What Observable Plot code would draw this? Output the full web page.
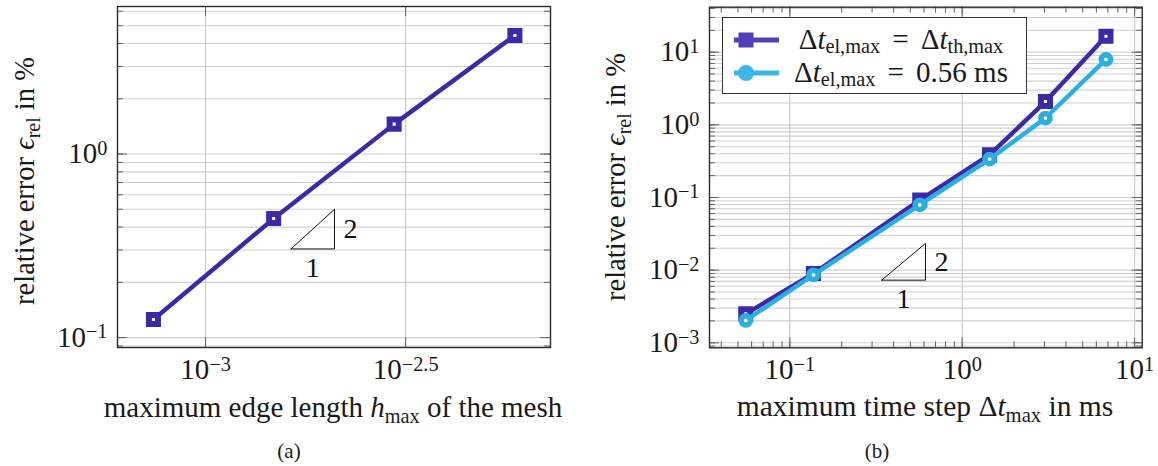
<!DOCTYPE html>
<html><head><meta charset="utf-8">
<script src="https://cdn.jsdelivr.net/npm/d3@7"></script>
<script src="https://cdn.jsdelivr.net/npm/@observablehq/plot@0.6"></script>
<style>
html,body{margin:0;padding:0;background:#fff;}
#root{position:relative;width:1158px;height:466px;overflow:hidden;font-family:"Liberation Serif","Times New Roman",serif;color:#1a1a1a;}
.abs{position:absolute;white-space:nowrap;line-height:1;}
.sub{font-size:0.7em;position:relative;top:0.28em;}
.lsub{font-size:0.7em;position:relative;top:0.2em;}
.it{font-style:italic;}
.eq{margin:0 0.42em;}
.ylab{transform:translate(-50%,-50%) rotate(-90deg);}
.cen{transform:translate(-50%,-50%);}
.panel{position:absolute;top:0;}
.legend{position:absolute;border:1.3px solid #333;background:#fff;box-sizing:border-box;}
.lrow{position:absolute;left:0;right:0;height:30px;}
</style></head><body><div id="root"></div>
<script>
// ---------------- data ----------------
const meshH = [7.41e-4, 1.48e-3, 2.96e-3, 5.93e-3];
const meshErr = [0.1254, 0.445, 1.456, 4.43];
const stepDt = [0.0555, 0.137, 0.567, 1.44, 3.04, 6.82];
const errSameStep = [0.0025, 0.00898, 0.092, 0.386, 2.09, 16.6];
const errFixedStep = [0.00203, 0.0086, 0.079, 0.337, 1.24, 7.94];
const xTicksA = [0.001, 0.0031623];
const xTickLabelsA = ["10^−3", "10^−2.5"];
const yTicksA = [0.1, 1];
const yTickLabelsA = ["10^−1", "10^0"];
const xTicksB = [0.1, 1, 10];
const xTickLabelsB = ["10^−1", "10^0", "10^1"];
const yTicksB = [0.001, 0.01, 0.1, 1, 10];
const yTickLabelsB = ["10^−3", "10^−2", "10^−1", "10^0", "10^1"];
const slopeAx = [1.635e-3, 2.10e-3], slopeAy = [0.304, 0.5];
const slopeBx = [0.341, 0.612], slopeBy = [0.00728, 0.0233];
const slopeText = ["2", "1"];

const PURPLE = "#3c29a9", BLUE = "#29b0e1";
const FONT = '"Liberation Serif","Times New Roman",serif';
const NS = "http://www.w3.org/2000/svg";
const TICKFS = 29;

function decadeValues(lo, hi) {
  const out = [];
  for (let e = Math.floor(Math.log10(lo)); e <= Math.ceil(Math.log10(hi)); e++)
    for (let k = 1; k <= 9; k++) { const v = k * Math.pow(10, e); if (v >= lo && v <= hi) out.push(v); }
  return out;
}

function supLabels(svg) {
  svg.querySelectorAll('g[aria-label$="tick label"] text').forEach(t => {
    const s = t.textContent; const parts = s.split("^");
    if (parts.length < 2) return;
    t.textContent = "";
    const a = document.createElementNS(NS, "tspan"); a.textContent = parts[0]; t.appendChild(a);
    const b = document.createElementNS(NS, "tspan"); b.textContent = parts[1];
    b.setAttribute("dy", "-0.42em"); b.setAttribute("font-size", (TICKFS * 0.7) + "px"); t.appendChild(b);
  });
}

function slopeMarks(xs, ys) {
  const idx = [0, 1, 2, 3];
  const px = [xs[0], xs[1], xs[1], xs[0]], py = [ys[0], ys[0], ys[1], ys[0]];
  return [
    Plot.line(idx, {x: i => px[i], y: i => py[i], stroke: "#111", strokeWidth: 1}),
    Plot.text([0], {x: () => xs[1], y: () => Math.sqrt(ys[0] * ys[1]), text: () => slopeText[0], dx: 16, fontSize: 28, fill: "#111"}),
    Plot.text([0], {x: () => Math.sqrt(xs[0] * xs[1]), y: () => ys[0], text: () => slopeText[1], dy: 19, fontSize: 28, fill: "#111"})
  ];
}

function panel(o) {
  const fh = o.height - o.mt - o.mb, fw = o.width - o.ml - o.mr;
  const yMinor = decadeValues(o.yDomain[0], o.yDomain[1]);
  const xMinor = o.xMinor ? decadeValues(o.xDomain[0], o.xDomain[1]) : [];
  const tickC = "#666";
  const svg = Plot.plot({
    width: o.width, height: o.height,
    marginTop: o.mt, marginBottom: o.mb, marginLeft: o.ml, marginRight: o.mr,
    x: {type: "log", domain: o.xDomain},
    y: {type: "log", domain: o.yDomain},
    style: {fontFamily: FONT, fontSize: TICKFS + "px", color: "#1a1a1a", background: "transparent", overflow: "visible"},
    marks: [
      Plot.ruleY(yMinor, {y: d => d, stroke: "#d0d0d0", strokeWidth: 1.1}),
      Plot.ruleX(o.xTicks, {x: d => d, stroke: "#c8c8c8", strokeWidth: 1.1}),
      Plot.tickY(yMinor, {y: d => d, insetRight: fw - 6, stroke: tickC}),
      Plot.tickY(yMinor, {y: d => d, insetLeft: fw - 6, stroke: tickC}),
      Plot.tickY(o.yTicks, {y: d => d, insetRight: fw - 10, stroke: tickC}),
      Plot.tickY(o.yTicks, {y: d => d, insetLeft: fw - 10, stroke: tickC}),
      Plot.tickX(xMinor, {x: d => d, insetTop: fh - 6, stroke: tickC}),
      Plot.tickX(xMinor, {x: d => d, insetBottom: fh - 6, stroke: tickC}),
      Plot.tickX(o.xTicks, {x: d => d, insetTop: fh - 10, stroke: tickC}),
      Plot.tickX(o.xTicks, {x: d => d, insetBottom: fh - 10, stroke: tickC}),
      ...o.marks,
      Plot.frame({stroke: "#2a2a2a", strokeWidth: 1.4}),
      Plot.axisX(o.xTicks, {tickFormat: d => o.xLabels[o.xTicks.indexOf(d)], tickSize: 0, tickPadding: 11, fontSize: TICKFS, label: null}),
      Plot.axisY(o.yTicks, {tickFormat: d => o.yLabels[o.yTicks.indexOf(d)], tickSize: 0, tickPadding: 10, fontSize: TICKFS, label: null})
    ]
  });
  supLabels(svg);
  return svg;
}

const root = document.getElementById("root");

// ---------- panel (a) ----------
const idxA = meshH.map((d, i) => i);
const svgA = panel({
  width: 560, height: 400, mt: 6, mb: 53, ml: 117, mr: 10,
  xDomain: [Math.pow(10, -3.22), Math.pow(10, -2.138)],
  yDomain: [Math.pow(10, -1.054), Math.pow(10, 0.804)],
  xTicks: xTicksA, xLabels: xTickLabelsA, yTicks: yTicksA, yLabels: yTickLabelsA, xMinor: false,
  marks: [
    ...slopeMarks(slopeAx, slopeAy),
    Plot.line(idxA, {x: i => meshH[i], y: i => meshErr[i], stroke: PURPLE, strokeWidth: 4.4}),
    Plot.dot(idxA, {x: i => meshH[i], y: i => meshErr[i], symbol: "square", r: 5.1, fill: "#fff", stroke: PURPLE, strokeWidth: 6})
  ]
});
svgA.classList.add("panel"); svgA.style.left = "0px";
root.appendChild(svgA);

// ---------- panel (b) ----------
const idxB = stepDt.map((d, i) => i);
const svgB = panel({
  width: 578, height: 400, mt: 6.7, mb: 52.7, ml: 129, mr: 16.3,
  xDomain: [Math.pow(10, -1.466), Math.pow(10, 1.044)],
  yDomain: [Math.pow(10, -3.069), Math.pow(10, 1.619)],
  xTicks: xTicksB, xLabels: xTickLabelsB, yTicks: yTicksB, yLabels: yTickLabelsB, xMinor: true,
  marks: [
    ...slopeMarks(slopeBx, slopeBy),
    Plot.line(idxB, {x: i => stepDt[i], y: i => errSameStep[i], stroke: PURPLE, strokeWidth: 4.4}),
    Plot.dot(idxB, {x: i => stepDt[i], y: i => errSameStep[i], symbol: "square", r: 5.1, fill: "#fff", stroke: PURPLE, strokeWidth: 6}),
    Plot.line(idxB, {x: i => stepDt[i], y: i => errFixedStep[i], stroke: BLUE, strokeWidth: 4.4}),
    Plot.dot(idxB, {x: i => stepDt[i], y: i => errFixedStep[i], r: 4.6, fill: "#fff", stroke: BLUE, strokeWidth: 5.5})
  ]
});
svgB.classList.add("panel"); svgB.style.left = "580px";
root.appendChild(svgB);

// ---------- text ----------
function addDiv(html, css, cls) {
  const d = document.createElement("div");
  d.className = "abs " + (cls || "");
  d.innerHTML = html;
  Object.assign(d.style, css);
  root.appendChild(d);
  return d;
}
const yLab = 'relative error <span class="it">ϵ</span><span class="sub">rel</span> in %';
addDiv(yLab, {left: "25px", top: "181px", fontSize: "28.5px"}, "ylab");
addDiv(yLab, {left: "616px", top: "177px", fontSize: "28.5px"}, "ylab");
addDiv('maximum edge length <span class="it">h</span><span class="sub">max</span> of the mesh', {left: "333px", top: "407px", fontSize: "29px"}, "cen");
addDiv('maximum time step Δ<span class="it">t</span><span class="sub">max</span> in ms', {left: "925px", top: "407px", fontSize: "29.5px"}, "cen");
addDiv('(a)', {left: "289px", top: "451px", fontSize: "21px"}, "cen");
addDiv('(b)', {left: "877px", top: "451px", fontSize: "21px"}, "cen");

// ---------- legend ----------
const leg = document.createElement("div");
leg.className = "legend";
Object.assign(leg.style, {left: "722px", top: "17px", width: "305px", height: "77px"});
const entries = [
  {color: "#5340b8", sym: "square", html: 'Δ<span class="it">t</span><span class="lsub">el,max</span><span class="eq">=</span>Δ<span class="it">t</span><span class="lsub">th,max</span>'},
  {color: "#3bb7e5", sym: "circle", html: 'Δ<span class="it">t</span><span class="lsub">el,max</span><span class="eq">=</span>0.56 ms'}
];
entries.forEach((e, k) => {
  const row = document.createElement("div");
  row.className = "lrow";
  row.style.top = (7 + k * 33) + "px";
  const mk = e.sym === "square"
    ? `<rect x="15.5" y="7.5" width="15" height="15" fill="${e.color}"/>`
    : `<circle cx="23" cy="15" r="8" fill="${e.color}"/>`;
  row.innerHTML = `<svg width="60" height="30" style="position:absolute;left:0;top:0"><line x1="11" x2="56" y1="15" y2="15" stroke="${e.color}" stroke-width="5"/>${mk}</svg>` +
    `<div class="abs cen" style="left:178px;top:14px;font-size:29px">${e.html}</div>`;
  leg.appendChild(row);
});
root.appendChild(leg);
</script></body></html>
